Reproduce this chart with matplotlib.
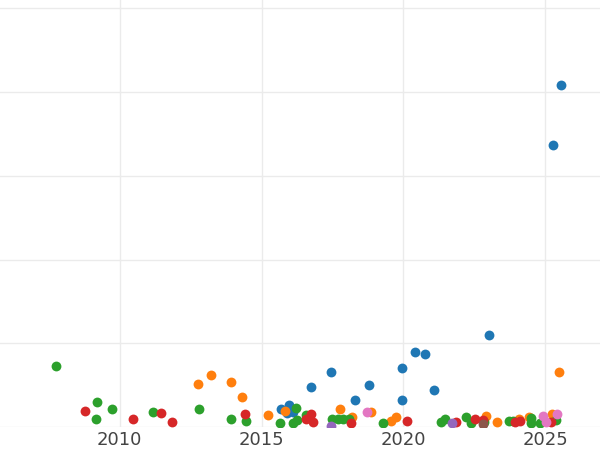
import matplotlib
matplotlib.use("Agg")
import matplotlib.pyplot as plt

# Datos (año, valor)
azul_x = [2025.56, 2025.26, 2023.03, 2020.41, 2020.76, 2019.95, 2021.08, 2019.95,
          2018.79, 2018.28, 2017.44, 2016.73, 2015.70, 2015.96, 2015.88, 2016.10]
azul_y = [408.4, 336.7, 109.8, 89.9, 86.8, 70.1, 43.8, 31.9,
          49.8, 32.6, 65.7, 47.8, 21.5, 26.3, 16.4, 18.3]

naranja_x = [2012.77, 2013.22, 2013.94, 2014.30, 2015.23, 2015.83, 2017.75, 2018.19,
             2018.86, 2019.58, 2019.75, 2022.90, 2023.31, 2024.06, 2024.42, 2025.23, 2025.47]
naranja_y = [51.3, 62.1, 53.7, 35.8, 14.0, 19.1, 21.1, 11.9,
             17.7, 7.2, 11.6, 13.1, 6.3, 10.1, 11.9, 15.5, 65.7]

verde_x = [2007.77, 2009.20, 2009.18, 2009.74, 2011.16, 2012.80, 2013.92, 2014.44,
           2015.66, 2016.23, 2016.11, 2016.25, 2016.56, 2017.47, 2017.68, 2017.87,
           2018.07, 2019.28, 2021.31, 2021.48, 2022.22, 2022.40, 2022.84, 2023.71,
           2023.85, 2024.49, 2024.49, 2024.81, 2025.39]
verde_y = [73.2, 29.9, 9.9, 21.5, 17.9, 21.1, 9.2, 7.5,
           5.1, 23.0, 4.8, 7.8, 14.3, 10.1, 9.6, 9.9,
           10.1, 4.8, 5.4, 9.2, 11.6, 5.1, 6.3, 7.5,
           7.5, 10.4, 5.1, 5.1, 8.4]

rojo_x = [2008.77, 2010.46, 2011.47, 2011.83, 2014.41, 2016.73, 2016.56, 2016.80,
          2018.15, 2020.13, 2021.87, 2022.51, 2022.80, 2023.93, 2024.10, 2025.19]
rojo_y = [19.1, 9.9, 16.7, 6.3, 15.2, 15.5, 9.3, 5.4,
          4.4, 7.2, 6.3, 9.0, 8.4, 5.4, 6.6, 6.0]

morado_x = [2017.46, 2021.73]
morado_y = [1.6, 4.4]

marron_x = [2022.81]
marron_y = [3.6]

rosa_x = [2018.72, 2024.93, 2025.02, 2025.43]
rosa_y = [18.3, 13.5, 6.3, 15.3]

series = [
    (azul_x, azul_y, '#1f77b4'),
    (naranja_x, naranja_y, '#ff7f0e'),
    (verde_x, verde_y, '#2ca02c'),
    (rojo_x, rojo_y, '#d62728'),
    (morado_x, morado_y, '#9467bd'),
    (marron_x, marron_y, '#8c564b'),
    (rosa_x, rosa_y, '#e377c2'),
]

fig = plt.figure(figsize=(6, 4.5), dpi=100)
ax = fig.add_axes([0, 23 / 450, 1, 427 / 450])

for xs, ys, color in series:
    ax.scatter(xs, ys, s=50, color=color, linewidths=0, zorder=3)

ax.set_xlim(2005.78, 2026.93)
ax.set_ylim(0, 510)
ax.set_xticks([2010, 2015, 2020, 2025])
ax.set_yticks([0, 100, 200, 300, 400, 500])
ax.set_yticklabels([])
ax.grid(True, color='#ebebeb', linewidth=1.0, zorder=0)
ax.set_axisbelow(True)
for s in ax.spines.values():
    s.set_visible(False)
ax.tick_params(axis='both', length=0, pad=3)
ax.tick_params(axis='x', labelsize=13, labelcolor='#444444')

fig.savefig('out.png', dpi=100)
